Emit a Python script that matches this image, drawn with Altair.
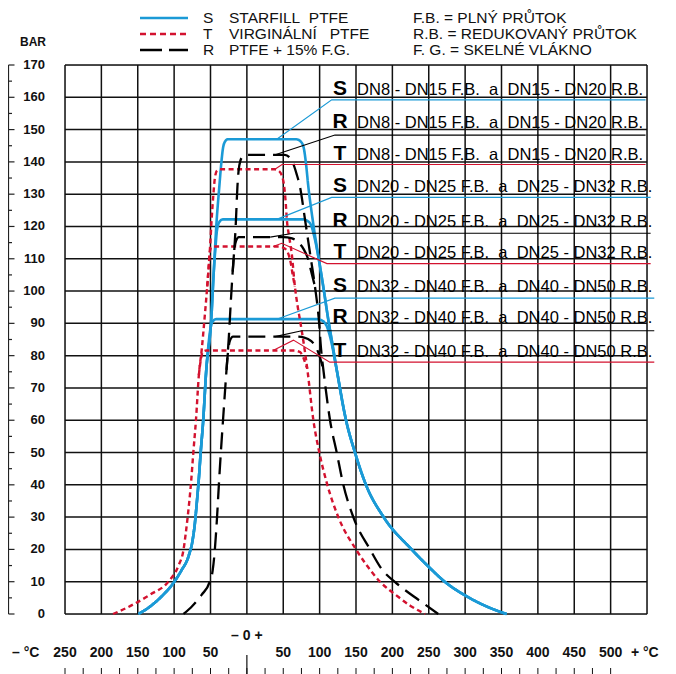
import altair as alt
import pandas as pd

FONT = "Liberation Sans"
BLUE = "#1b9ad6"
RED = "#d3122f"
BLACK = "#000000"

# ---------------- curve data: (temperature °C, pressure bar) ----------------
S_LEFT = [(-149, 0), (-132, 2.5), (-117, 5.5), (-103, 9), (-90, 13.5), (-80, 18), (-74.5, 23),
          (-71.5, 28), (-69, 34), (-66, 42), (-63.5, 50), (-60, 60), (-56, 75)]
S_RIGHT_LOW = [(123.5, 75.6), (136.3, 60), (148.6, 50), (163.7, 40), (188, 30), (226.5, 20),
               (250, 14.6), (272, 10), (302, 5.5), (330, 2.3), (357, 0)]
S1_MID = [(-49, 91), (-45.5, 106), (-41.5, 122), (-38, 132), (-35, 140), (-33, 144), (-30, 146.3),
          (-26, 147), (68, 147), (74, 146.3), (78, 144.5), (81, 140), (84.5, 132.3), (90.5, 122),
          (98, 111), (105, 101.4), (112, 91), (118, 83)]
S2_MID = [(-49, 91), (-45.5, 106), (-43, 114), (-41, 119), (-37.5, 121.5), (-33, 122.2),
          (77, 122.2), (84, 121.6), (89, 120), (92.5, 117), (98, 111), (105, 101.4), (112, 91), (118, 83)]
S3_MID = [(-52.5, 84), (-50, 88.5), (-47, 90.6), (-42, 91.3), (96, 91.3), (104, 90.8), (110, 89), (114, 86.2)]

T_LEFT = [(-184, 0), (-160, 2.5), (-133, 6), (-108, 10), (-94, 15), (-87, 20), (-84, 25),
          (-81.4, 30), (-77, 40), (-73.6, 50), (-70, 60), (-66, 74)]
T_RIGHT_LOW = [(83, 76), (91.4, 60), (99.6, 50), (110.6, 40), (125.7, 30), (150, 20), (165, 15),
               (183, 10), (207, 5.5), (225, 2.5), (245, 0)]
T1_MID = [(-62, 82), (-58, 92), (-54.5, 101.4), (-52, 109), (-50.5, 114), (-48.5, 122), (-46, 130),
          (-44, 135), (-41, 137.3), (-37, 137.7), (38, 137.7), (44, 137.2), (48.5, 135.5), (51.5, 132),
          (53.5, 127), (55, 122), (58, 117), (61.6, 111.7), (66, 101.4), (70, 95), (73, 91), (78, 84)]
# the lower plateaus branch off the outer curve and rejoin it
T2_SEG = [(-54.5, 101.4), (-52, 109), (-51, 112), (-49, 113.5), (-45, 113.8), (44, 113.8), (52, 113.2),
          (57, 111.5), (60.5, 108.5), (63, 105), (66, 101.4)]
T3_SEG = [(-66, 74), (-63.5, 78.5), (-60.5, 81.2), (-56, 81.6), (66, 81.6), (73, 81.1), (77.5, 79.5),
          (80.5, 77.5), (83, 76)]

R_LEFT = [(-87, 0), (-75, 2.5), (-62, 6), (-51, 10), (-47, 13.5), (-44, 20), (-41, 30),
          (-38.5, 40), (-35.8, 50), (-32.8, 60), (-28, 75.6)]
R_RIGHT_LOW = [(114.3, 60), (123.5, 50), (132.6, 40), (146.3, 30), (169.3, 20), (185, 14),
               (203, 10), (229, 5.5), (249, 2.3), (263, 0)]
R1_MID = [(-25, 85), (-22, 97), (-19.5, 106), (-17.5, 112), (-15.4, 120), (-13, 132.3), (-11.5, 137),
          (-9, 140.3), (-5, 141.8), (0, 142.2), (52, 142.2), (59, 141.3), (64, 139.3), (68, 136.5),
          (73, 132.3), (80, 122), (86.8, 111.7), (93.6, 101.4), (99, 91), (102, 82), (105.5, 75)]
R2_SEG = [(-19.5, 106), (-17.5, 112), (-15, 115.5), (-11, 116.7), (50, 116.7), (62, 116.3), (71, 115),
          (78, 113), (84, 110), (88.5, 106), (93.6, 101.4)]
R3_SEG = [(-28, 75.6), (-26, 81), (-23.5, 84.5), (-19, 85.9), (68, 85.9), (79, 85.6), (88, 84.6),
          (95, 82.6), (100, 79.8), (103, 77.5), (105.5, 75)]

CURVES = {
    "S1": ("S", S_LEFT + S1_MID + S_RIGHT_LOW),
    "S2": ("S", S_LEFT + S2_MID + S_RIGHT_LOW),
    "S3": ("S", S_LEFT + S3_MID + S_RIGHT_LOW),
    "T1": ("T", T_LEFT + T1_MID + T_RIGHT_LOW),
    "T2": ("T", T2_SEG),
    "T3": ("T", T3_SEG),
    "R1": ("R", R_LEFT + R1_MID + R_RIGHT_LOW),
    "R2": ("R", R2_SEG),
    "R3": ("R", R3_SEG),
}

# ---------------- annotation data ----------------
ROW_LETTERS = ["S", "R", "T", "S", "R", "T", "S", "R", "T"]
ROW_TEXTS = ["DN8 - DN15 F.B.  a  DN15 - DN20 R.B."] * 3 + \
            ["DN20 - DN25 F.B.  a  DN25 - DN32 R.B."] * 3 + \
            ["DN32 - DN40 F.B.  a  DN40 - DN50 R.B."] * 3
ROW_BASE_P = [160.7, 150.4, 140.6, 130.8, 119.9, 110.2, 99.8, 90.0, 79.6]
LETTER_T = 128
TEXT_T = 151.5
POINTERS = [
    ("S", [(41, 147), (116.6, 159.2), (548, 159.2)]),
    ("R", [(39, 142.2), (121, 148.3), (548, 148.3)]),
    ("T", [(38.6, 137.7), (48.3, 139.2), (548, 139.2)]),
    ("S", [(41, 122.2), (116.6, 129), (555, 129)]),
    ("R", [(32, 116.7), (64, 117.9), (555, 117.9)]),
    ("T", [(36, 113.8), (48, 114.8), (110, 108.5), (555, 108.5)]),
    ("S", [(41, 91.3), (121, 97.8), (560, 97.8)]),
    ("R", [(38.7, 85.9), (75.4, 87.7), (560, 87.7)]),
    ("T", [(36, 81.6), (64, 84.8), (114, 78), (560, 78)]),
]

GRID_X = list(range(-250, 551, 50))
GRID_Y = list(range(0, 171, 10))
X_LABEL_VALUES = [-250, -200, -150, -100, -50, 50, 100, 150, 200, 250, 300, 350, 400, 450, 500]
X_TICKS = list(range(-250, 501, 25))
Y_MINOR = list(range(5, 171, 10))

LEGEND_LEFT = [("S", "STARFILL\u00a0\u00a0PTFE"), ("T", "VIRGINÁLNÍ\u00a0\u00a0\u00a0PTFE"),
               ("R", "PTFE\u00a0+\u00a015%\u00a0F.G.")]
LEGEND_RIGHT = ["F.B.\u00a0=\u00a0PLNÝ\u00a0PRŮTOK", "R.B.\u00a0=\u00a0REDUKOVANÝ\u00a0PRŮTOK",
                "F.\u00a0G.\u00a0=\u00a0SKELNÉ\u00a0VLÁKNO"]
LEGEND_Y = [-47, -31, -15]

STYLE = {"S": (BLUE, [1, 0], 2.6), "T": (RED, [5, 3.5], 2.4), "R": (BLACK, [17, 8], 2.3)}

# ---------------- build tables ----------------
crow = []
for name, (mat, pts) in CURVES.items():
    for i, (t, p) in enumerate(pts):
        crow.append({"curve": name, "mat": mat, "T": t, "P": p, "i": i})
cdf = pd.DataFrame(crow)

prow = []
for k, (mat, pts) in enumerate(POINTERS):
    for i, (t, p) in enumerate(pts):
        prow.append({"row": k, "mat": mat, "T": t, "P": p, "i": i})
pdf = pd.DataFrame(prow)

xs = alt.Scale(domain=[-250, 550], nice=False, zero=False)
ys = alt.Scale(domain=[0, 170], nice=False, zero=False)


def X(field="T:Q"):
    return alt.X(field, scale=xs, axis=None)


def Y(field="P:Q"):
    return alt.Y(field, scale=ys, axis=None)


one = pd.DataFrame({"a": [0]})
layers = []

# grid
layers.append(alt.Chart(pd.DataFrame({"T": GRID_X})).mark_rule(color="#111", strokeWidth=1.5)
              .encode(x=X(), y=alt.value(0), y2=alt.value(549)))
layers.append(alt.Chart(pd.DataFrame({"P": GRID_Y})).mark_rule(color="#111", strokeWidth=1.5)
              .encode(y=Y(), x=alt.value(0), x2=alt.value(582)))
layers.append(alt.Chart(pd.DataFrame({"P": GRID_Y, "lbl": [str(v) for v in GRID_Y]}))
              .mark_text(font=FONT, fontSize=13, fontWeight="bold", align="right", baseline="middle",
                         color="#111")
              .encode(y=Y(), x=alt.value(-20), text="lbl:N"))

# curves
for mat in ["S", "T", "R"]:
    color, dash, w = STYLE[mat]
    d = cdf[cdf.mat == mat]
    layers.append(
        alt.Chart(d).mark_line(color=color, strokeDash=dash, strokeWidth=w, interpolate="monotone",
                               strokeCap="butt")
        .encode(x=X(), y=Y(), detail="curve:N", order="i:Q")
    )

# pointer / underline lines
for mat in ["S", "T", "R"]:
    color = STYLE[mat][0]
    d = pdf[pdf.mat == mat]
    layers.append(
        alt.Chart(d).mark_line(color=color, strokeWidth=1.1)
        .encode(x=X(), y=Y(), detail="row:N", order="i:Q")
    )

lab = pd.DataFrame({"letter": ROW_LETTERS, "text": [t.replace(" ", "\u00a0") for t in ROW_TEXTS],
                    "P": ROW_BASE_P, "TL": [LETTER_T] * 9, "TT": [TEXT_T] * 9})
layers.append(alt.Chart(lab).mark_text(font=FONT, fontSize=21, fontWeight="bold", align="center",
                                       baseline="alphabetic", color="#000")
              .encode(x=X("TL:Q"), y=Y(), text="letter:N"))
layers.append(alt.Chart(lab).mark_text(font=FONT, fontSize=16.5, align="left",
                                       baseline="alphabetic", color="#000")
              .encode(x=X("TT:Q"), y=Y(), text="text:N"))

# bottom temperature labels
xl = pd.DataFrame({"T": X_LABEL_VALUES, "lbl": [str(abs(v)) for v in X_LABEL_VALUES]})
layers.append(alt.Chart(xl).mark_text(font=FONT, fontSize=14, fontWeight="bold", baseline="middle",
                                      color="#111")
              .encode(x=X(), y=alt.value(588), text="lbl:N"))
unit = pd.DataFrame({"T": [-304, 547], "lbl": ["–\u00a0°C", "+\u00a0°C"]})
layers.append(alt.Chart(unit).mark_text(font=FONT, fontSize=14, fontWeight="bold", baseline="middle",
                                        color="#111")
              .encode(x=X(), y=alt.value(588), text="lbl:N"))
zero = pd.DataFrame({"T": [0], "lbl": ["–\u00a00\u00a0+"]})
layers.append(alt.Chart(zero).mark_text(font=FONT, fontSize=14, fontWeight="bold", baseline="middle",
                                        color="#111")
              .encode(x=X(), y=alt.value(571), text="lbl:N"))
tk = pd.DataFrame({"T": X_TICKS})
layers.append(alt.Chart(tk).mark_rule(color="#111", strokeWidth=1)
              .encode(x=X(), y=alt.value(603), y2=alt.value(609)))
layers.append(alt.Chart(pd.DataFrame({"T": [0]})).mark_rule(color="#111", strokeWidth=1.2)
              .encode(x=X(), y=alt.value(590), y2=alt.value(609)))

# left bracket axis
layers.append(alt.Chart(one).mark_rule(color="#222", strokeWidth=1.2)
              .encode(x=alt.value(-56.5), y=alt.value(0), y2=alt.value(549)))
layers.append(alt.Chart(pd.DataFrame({"P": GRID_Y})).mark_rule(color="#222", strokeWidth=1.2)
              .encode(x=alt.value(-56.5), x2=alt.value(-50.5), y=Y()))
layers.append(alt.Chart(pd.DataFrame({"P": Y_MINOR})).mark_rule(color="#222", strokeWidth=1.2)
              .encode(x=alt.value(-56.5), x2=alt.value(-53), y=Y()))
layers.append(alt.Chart(one).mark_text(font=FONT, fontSize=12, fontWeight="bold", color="#111")
              .encode(x=alt.value(-32), y=alt.value(-23), text=alt.value("BAR")))

# legend
for k, mat in enumerate(["S", "T", "R"]):
    color, dash, w = STYLE[mat]
    mdash = [22, 7] if mat == "R" else ([6, 4] if mat == "T" else [1, 0])
    layers.append(alt.Chart(one).mark_rule(color=color, strokeWidth=2.6, strokeDash=mdash, strokeCap="butt")
                  .encode(x=alt.value(75), x2=alt.value(123), y=alt.value(LEGEND_Y[k])))
    layers.append(alt.Chart(one).mark_text(font=FONT, fontSize=15.5, align="left", baseline="middle",
                                           color="#111")
                  .encode(x=alt.value(138), y=alt.value(LEGEND_Y[k]), text=alt.value(LEGEND_LEFT[k][0])))
    layers.append(alt.Chart(one).mark_text(font=FONT, fontSize=15.5, align="left", baseline="middle",
                                           color="#111")
                  .encode(x=alt.value(164), y=alt.value(LEGEND_Y[k]), text=alt.value(LEGEND_LEFT[k][1])))
    layers.append(alt.Chart(one).mark_text(font=FONT, fontSize=15.5, align="left", baseline="middle",
                                           color="#111")
                  .encode(x=alt.value(348), y=alt.value(LEGEND_Y[k]), text=alt.value(LEGEND_RIGHT[k])))

chart = alt.layer(*layers).properties(
    width=582, height=549,
    autosize=alt.AutoSizeParams(type="none"),
    padding={"left": 57, "top": 57, "right": 21, "bottom": 60},
).configure_view(stroke=None).configure(background="white")

chart.save("out.html", embed_options={"renderer": "svg", "actions": False})
